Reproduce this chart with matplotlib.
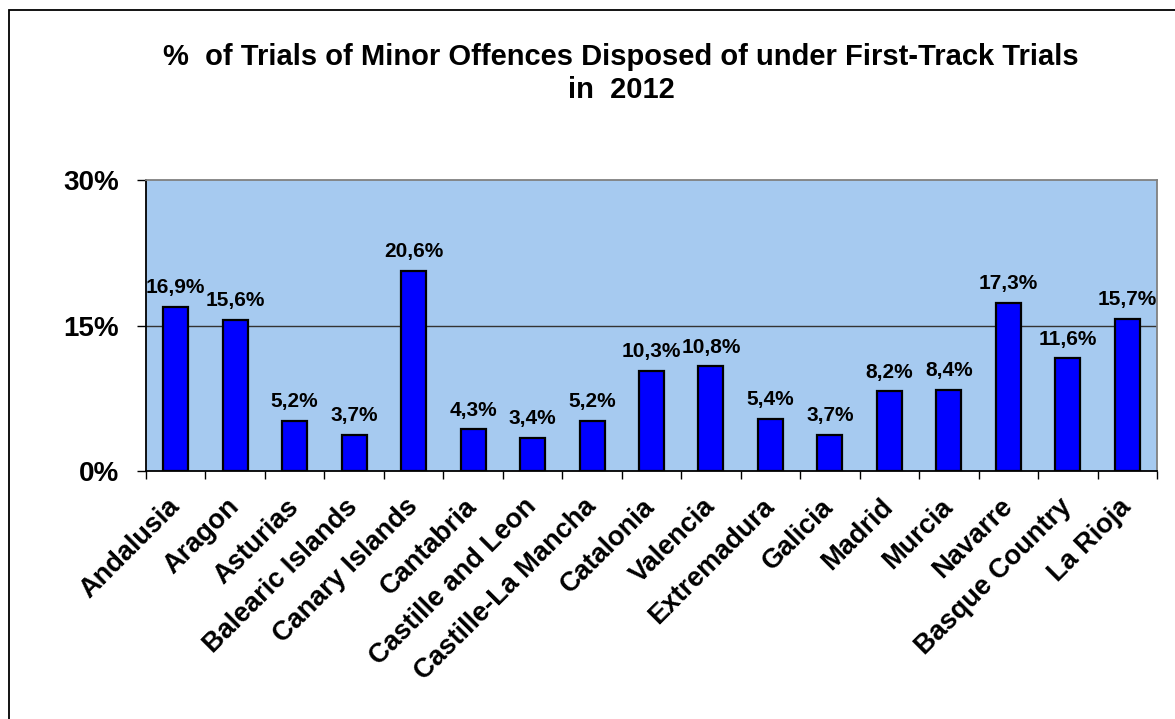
import numpy as np
import matplotlib.pyplot as plt
from matplotlib.patches import Rectangle

regions = ["Andalusia", "Aragon", "Asturias", "Balearic Islands", "Canary Islands",
           "Cantabria", "Castille and Leon", "Castille-La Mancha", "Catalonia",
           "Valencia", "Extremadura", "Galicia", "Madrid", "Murcia", "Navarre",
           "Basque Country", "La Rioja"]
values = [16.9, 15.6, 5.2, 3.7, 20.6, 4.3, 3.4, 5.2, 10.3, 10.8, 5.4, 3.7,
          8.2, 8.4, 17.3, 11.6, 15.7]
yticks = [0, 15, 30]
ytick_labels = ["0%", "15%", "30%"]

plt.rcParams['font.family'] = ['Liberation Sans', 'DejaVu Sans']
plt.rcParams['font.weight'] = 'bold'

fig = plt.figure(figsize=(11.75, 7.19), dpi=100)
ax = fig.add_axes([146/1175, 1-471/719, (1157-146)/1175, (471-180)/719])

# partial frame around the chart (top and left edges visible)
fig.patches.append(Rectangle((9/1175, -0.1), 1.2, 1-10/719+0.1,
                             transform=fig.transFigure, fill=False,
                             edgecolor='black', linewidth=1.3))

x = np.arange(len(regions))
ax.set_facecolor('#A6CAF0')
ax.bar(x, values, width=0.42, color='#0000FF', edgecolor='black', linewidth=1.6, zorder=3)
ax.axhline(15, color='#333333', linewidth=1.0, zorder=2)

for xi, v in zip(x, values):
    ax.annotate(f"{v:.1f}%".replace('.', ','), (xi, v), xytext=(0, 7),
                textcoords='offset points', ha='center', va='bottom',
                fontsize=15, fontweight='bold')

ax.set_xlim(-0.5, len(regions) - 0.5)
ax.set_ylim(0, 30)
ax.set_yticks(yticks)
ax.set_yticklabels(ytick_labels, fontsize=20, fontweight='bold')
ax.tick_params(axis='y', length=6.5, width=1, direction='out', pad=13)

ax.set_xticks(np.arange(-0.5, len(regions)), minor=True)
ax.set_xticks(x)
ax.set_xticklabels(regions, rotation=45, ha='right', va='center',
                   rotation_mode='anchor', fontsize=19.5, fontweight='bold')
ax.tick_params(axis='x', which='major', length=0, pad=23)
ax.tick_params(axis='x', which='minor', length=6, width=1, direction='out')

for s in ['top', 'right']:
    ax.spines[s].set_color('#808080')
    ax.spines[s].set_linewidth(1.3)
for s in ['left', 'bottom']:
    ax.spines[s].set_color('black')
    ax.spines[s].set_linewidth(1.3)

fig.text(621/1175, 1-57/719, "%  of Trials of Minor Offences Disposed of under First-Track Trials",
         ha='center', va='center', fontsize=21, fontweight='bold')
fig.text(621/1175, 1-90/719, "in  2012", ha='center', va='center',
         fontsize=21, fontweight='bold')

fig.savefig("out.png", dpi=100)
